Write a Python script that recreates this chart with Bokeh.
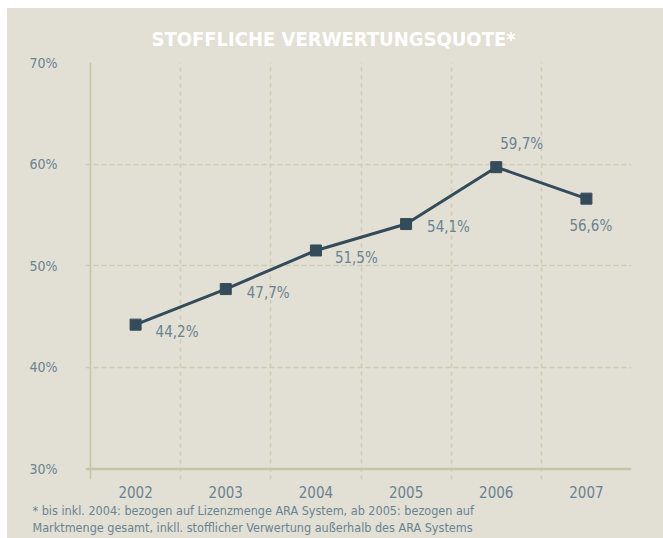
from bokeh.plotting import figure
from bokeh.models import Range1d, FixedTicker, Span, Title, ColumnDataSource
from bokeh.core.properties import value
from bokeh.embed import file_html
from bokeh.resources import INLINE

# ---- data ----
years = [2002, 2003, 2004, 2005, 2006, 2007]
quote = [44.2, 47.7, 51.5, 54.1, 59.7, 56.6]
quote_labels = ["44,2%", "47,7%", "51,5%", "54,1%", "59,7%", "56,6%"]
y_ticks = [30, 40, 50, 60, 70]
y_tick_labels = {30: "30%", 40: "40%", 50: "50%", 60: "60%", 70: "70%"}
title_text = "STOFFLICHE VERWERTUNGSQUOTE*"
footnote_1 = "* bis inkl. 2004: bezogen auf Lizenzmenge ARA System, ab 2005: bezogen auf"
footnote_2 = "Marktmenge gesamt, inkll. stofflicher Verwertung außerhalb des ARA Systems"

# label placement (screen px, styling only)
label_dx = [20, 21, 19, 21, 4, -17]
label_dy = [7, 4, 8, 3, -23, 27]

BG = "#e2dfd4"
LINE = "#344b59"
TXT = "#6b8391"
GRID = "#cfcbb3"
AXIS = "#c8c4a8"
FONT = "DejaVu Sans Condensed"

p = figure(width=656, height=530, output_backend="svg", toolbar_location=None,
           x_range=Range1d(2001.5 - 5 / 90.0, 2007.5), y_range=Range1d(28.96, 70),
           min_border_left=78, min_border_right=32, min_border_top=54, min_border_bottom=59)
p.margin = (8, 0, 0, 7)
p.styles = {"background-color": BG}
p.background_fill_color = None
p.border_fill_color = None
p.outline_line_color = None

# title
p.title.text = title_text
p.title.text_color = "white"
p.title.text_font = FONT
p.title.text_font_style = "bold"
p.title.text_font_size = "20px"
p.title.align = "left"
p.title.offset = 66
p.title.standoff = 24

# axes
p.yaxis.ticker = FixedTicker(ticks=y_ticks)
p.yaxis.major_label_overrides = y_tick_labels
p.yaxis.axis_line_color = None
p.yaxis.major_tick_line_color = None
p.yaxis.minor_tick_line_color = None
p.yaxis.major_label_standoff = 22
p.yaxis.major_label_text_color = TXT
p.yaxis.major_label_text_font = FONT
p.yaxis.major_label_text_font_size = "14px"

p.xaxis.ticker = FixedTicker(ticks=years)
p.xaxis.axis_line_color = None
p.xaxis.major_tick_line_color = None
p.xaxis.minor_tick_line_color = None
p.xaxis.major_label_standoff = 0
p.xaxis.major_label_text_color = TXT
p.xaxis.major_label_text_font = FONT
p.xaxis.major_label_text_font_size = "15px"

# grids
p.ygrid.ticker = FixedTicker(ticks=[40, 50, 60])
p.ygrid.grid_line_color = GRID
p.ygrid.grid_line_dash = "5 3"
p.ygrid.grid_line_width = 1.5
p.xgrid.ticker = FixedTicker(ticks=[y + 0.5 for y in years[:-1]])
p.xgrid.grid_line_color = GRID
p.xgrid.grid_line_dash = "4 4"
p.xgrid.grid_line_width = 1.5

# axis lines
p.add_layout(Span(location=2001.5, dimension="height", line_color=AXIS, line_width=1.5))
p.add_layout(Span(location=30, dimension="width", line_color=AXIS, line_width=2.5))

# series
src = ColumnDataSource(dict(x=years, y=quote, lab=quote_labels, dx=label_dx, dy=label_dy))
p.line("x", "y", source=src, line_color=LINE, line_width=3)
p.scatter("x", "y", source=src, marker="square", size=11, fill_color=LINE, line_color=LINE)
p.text("x", "y", text="lab", source=src, x_offset="dx", y_offset="dy",
       text_align="left", text_baseline="middle", text_color=TXT,
       text_font=value(FONT), text_font_size="15px")

# footnotes
for t in [footnote_1, footnote_2]:
    p.add_layout(Title(text=t, align="left", offset=-53, text_color=TXT, text_font=FONT,
                       text_font_size="12.5px", text_font_style="normal", standoff=0), "below")

open("out.html", "w").write(file_html(p, INLINE))
